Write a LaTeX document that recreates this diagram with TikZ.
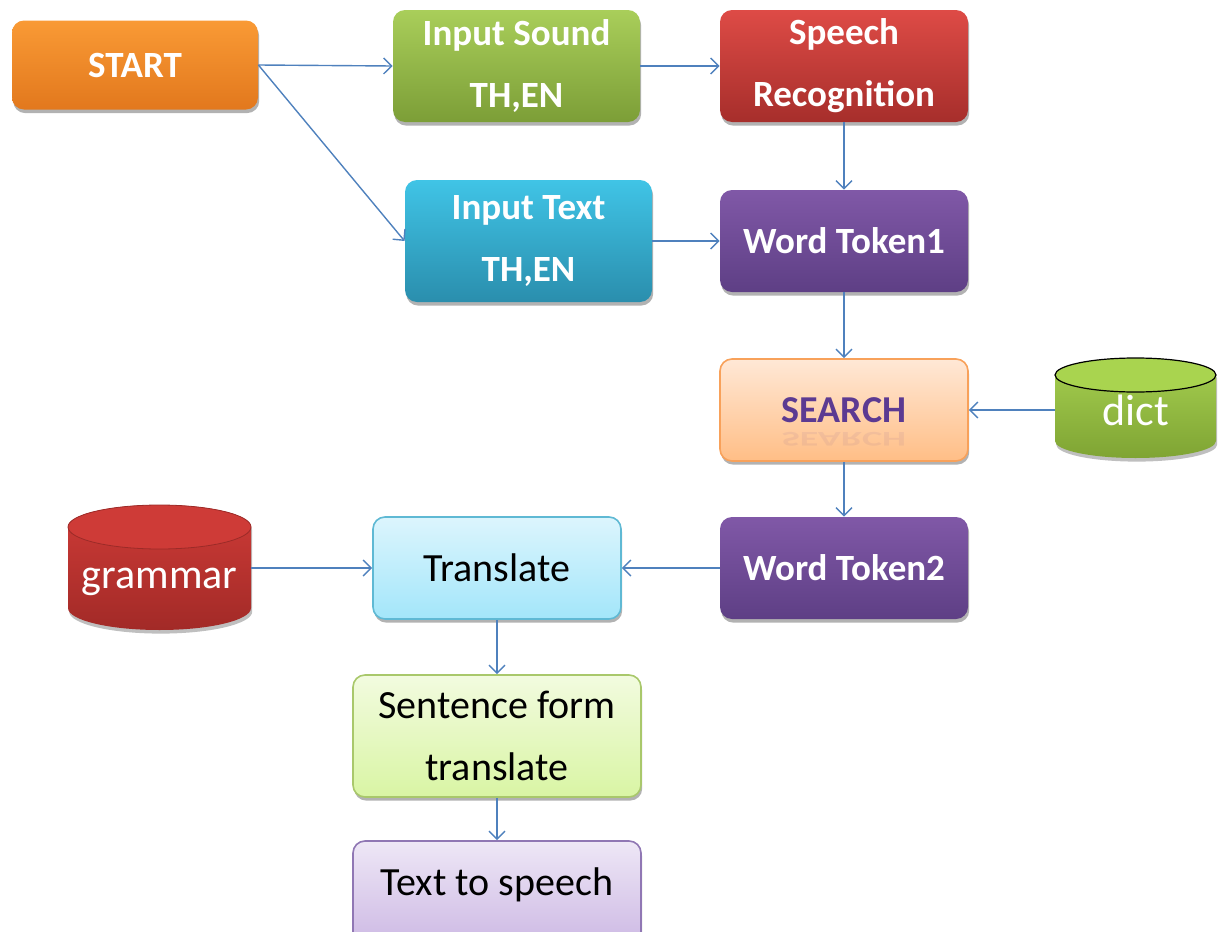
\documentclass[tikz,border=0pt]{standalone}
\usepackage{fontspec}
\setmainfont{Carlito}
\usetikzlibrary{arrows.meta,shadows}

\definecolor{startTop}{HTML}{F99A35}
\definecolor{startBot}{HTML}{E2781D}
\definecolor{sndTop}{HTML}{A9CE5A}
\definecolor{sndBot}{HTML}{7C9E37}
\definecolor{spTop}{HTML}{DE4B46}
\definecolor{spBot}{HTML}{A62E2B}
\definecolor{itTop}{HTML}{40C4E6}
\definecolor{itBot}{HTML}{2A8EAD}
\definecolor{wtTop}{HTML}{8058A7}
\definecolor{wtBot}{HTML}{5E3F85}
\definecolor{seTop}{HTML}{FFE8D6}
\definecolor{seBot}{HTML}{FFBE86}
\definecolor{seBorder}{HTML}{F8A15A}
\definecolor{seText}{HTML}{5C3A92}
\definecolor{trTop}{HTML}{DCF5FD}
\definecolor{trBot}{HTML}{A3E6FA}
\definecolor{trBorder}{HTML}{5FB9D4}
\definecolor{sfTop}{HTML}{F2FBDF}
\definecolor{sfBot}{HTML}{D9F5A4}
\definecolor{sfBorder}{HTML}{A9C86B}
\definecolor{tsTop}{HTML}{EEE7F6}
\definecolor{tsBot}{HTML}{CDB9E4}
\definecolor{tsBorder}{HTML}{9077B4}
\definecolor{dictTop}{HTML}{A6D051}
\definecolor{dictBot}{HTML}{7FA433}
\definecolor{dictLid}{HTML}{A9D44F}
\definecolor{gramTop}{HTML}{CE3B37}
\definecolor{gramBot}{HTML}{A22A27}
\definecolor{gramLid}{HTML}{B8332F}
\definecolor{linkBlue}{HTML}{4F81BD}

\tikzset{
  box/.style={rounded corners=6pt, align=center, inner sep=0pt,
    font=\fontsize{20}{31}\selectfont,
    drop shadow={shadow xshift=0.6pt, shadow yshift=-1.8pt, opacity=0.3, fill=black}},
  darkbox/.style={box, text=white, font=\bfseries\fontsize{18.5}{31}\selectfont},
  lightbox/.style={box, text=black, line width=0.8pt},
  dbtext/.style={text=white, font=\fontsize{21}{24}\selectfont, inner sep=0pt},
  link/.style={draw=linkBlue, line width=0.7pt,
    -{Straight Barb[length=4pt,width=8pt,line width=0.7pt]}},
}

\begin{document}
\begin{tikzpicture}[x=0.5pt,y=-0.5pt]
\useasboundingbox (0,0) rectangle (1223,932);

% top row
\node[darkbox, top color=startTop, bottom color=startBot,
  minimum width=123pt, minimum height=44.5pt] (start) at (135,65) {START};
\node[darkbox, top color=sndTop, bottom color=sndBot,
  minimum width=123.5pt, minimum height=56pt] (insound) at (516.5,66) {Input Sound\\TH,EN};
\node[darkbox, top color=spTop, bottom color=spBot,
  minimum width=124pt, minimum height=56pt] (speech) at (844,66) {Speech\\Recognition};

% second row
\node[darkbox, top color=itTop, bottom color=itBot,
  minimum width=123.5pt, minimum height=61pt] (intext) at (528.5,241) {Input Text\\TH,EN};
\node[darkbox, top color=wtTop, bottom color=wtBot,
  minimum width=124pt, minimum height=51pt] (wt1) at (844,241) {Word Token1};

% search and dictionary
\node[lightbox, draw=seBorder, top color=seTop, bottom color=seBot, text=seText,
  font=\bfseries\fontsize{19}{31}\selectfont,
  minimum width=124pt, minimum height=51pt] (search) at (844,410) {SEARCH};
\node[text=seText, opacity=0.08, yscale=-0.55, inner sep=0pt,
  font=\bfseries\fontsize{19}{24}\selectfont] (searchrefl) at (844,439) {SEARCH};

% dictionary cylinder
\path[drop shadow={shadow xshift=0.6pt, shadow yshift=-1.8pt, opacity=0.25, fill=black},
  top color=dictTop, bottom color=dictBot]
  (1055,375) -- (1055,441)
  arc[start angle=180, end angle=360, x radius=40.25pt, y radius=8.5pt]
  -- (1216,375)
  arc[start angle=0, end angle=180, x radius=40.25pt, y radius=8.5pt] -- cycle;
\draw[fill=dictLid, line width=0.6pt] (1135.5,375) ellipse[x radius=40.25pt, y radius=8.5pt];
\node[dbtext, font=\fontsize{22}{26}\selectfont,
  minimum width=80.5pt, minimum height=40pt] (dict) at (1135.5,410) {dict};

% third row
\node[darkbox, top color=wtTop, bottom color=wtBot,
  minimum width=124pt, minimum height=51pt] (wt2) at (844,568) {Word Token2};
\node[lightbox, draw=trBorder, top color=trTop, bottom color=trBot,
  minimum width=124pt, minimum height=51pt] (translate) at (497,568) {Translate};

% grammar cylinder
\path[drop shadow={shadow xshift=0.6pt, shadow yshift=-1.8pt, opacity=0.25, fill=black},
  top color=gramTop, bottom color=gramBot]
  (68,527) -- (68,608)
  arc[start angle=180, end angle=360, x radius=45.75pt, y radius=11pt]
  -- (251,527)
  arc[start angle=0, end angle=180, x radius=45.75pt, y radius=11pt] -- cycle;
\draw[draw=gramLid!85!black, line width=0.4pt, fill=gramTop]
  (159.5,527) ellipse[x radius=45.75pt, y radius=11pt];
\node[dbtext, text height=24pt, text depth=4pt,
  minimum width=91.5pt, minimum height=40pt] (grammar) at (159.5,568) {grammar};

% bottom column
\node[lightbox, draw=sfBorder, top color=sfTop, bottom color=sfBot,
  minimum width=144pt, minimum height=61pt] (sentence) at (497,736) {Sentence form\\translate};
\node[lightbox, draw=tsBorder, top color=tsTop, bottom color=tsBot, text depth=11pt,
  minimum width=144pt, minimum height=52pt] (tts) at (497,893) {Text to speech};

% connectors
\draw[link] (start.east) -- (insound.west);
\draw[link] (start.east) -- (intext.west);
\draw[link] (insound.east) -- (speech.west);
\draw[link] (speech.south) -- (wt1.north);
\draw[link] (intext.east) -- (wt1.west);
\draw[link] (wt1.south) -- (search.north);
\draw[link] (dict.west) -- (search.east);
\draw[link] (search.south) -- (wt2.north);
\draw[link] (wt2.west) -- (translate.east);
\draw[link] (grammar.east) -- (translate.west);
\draw[link] (translate.south) -- (sentence.north);
\draw[link] (sentence.south) -- (tts.north);
\end{tikzpicture}
\end{document}
